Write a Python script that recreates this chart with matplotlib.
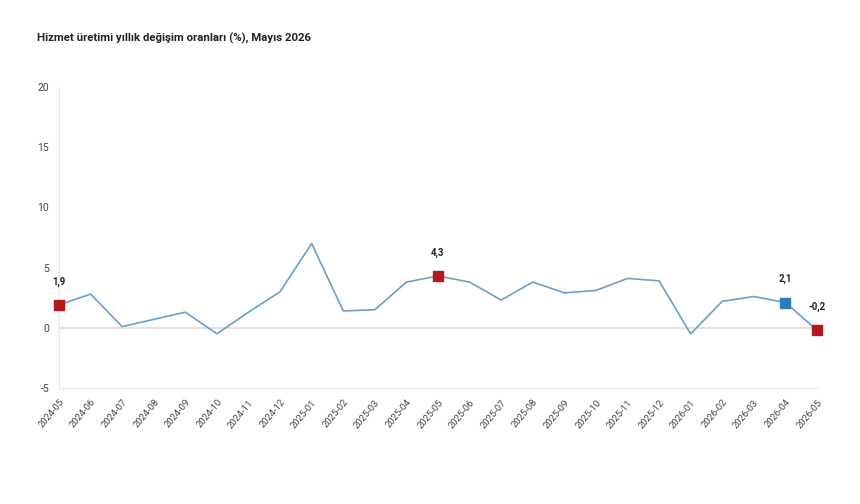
import matplotlib.pyplot as plt
import numpy as np

months = ['2024-05', '2024-06', '2024-07', '2024-08', '2024-09', '2024-10', '2024-11',
          '2024-12', '2025-01', '2025-02', '2025-03', '2025-04', '2025-05', '2025-06',
          '2025-07', '2025-08', '2025-09', '2025-10', '2025-11', '2025-12', '2026-01',
          '2026-02', '2026-03', '2026-04', '2026-05']
values = [1.9, 2.8, 0.1, 0.7, 1.3, -0.5, 1.3, 3.0, 7.0, 1.4, 1.5, 3.8, 4.3, 3.8,
          2.3, 3.8, 2.9, 3.1, 4.1, 3.9, -0.5, 2.2, 2.6, 2.1, -0.2]
# highlighted points: index, colour
highlights = {0: '#b5191f', 12: '#b5191f', 23: '#2f7dbf', 24: '#b5191f'}
yticks = [-5, 0, 5, 10, 15, 20]

plt.rcParams['font.family'] = ['Roboto', 'DejaVu Sans']

fig = plt.figure(figsize=(8.6, 5.04), dpi=100)
ax = fig.add_axes([59 / 860, 1 - 388 / 504, (817 - 59) / 860, 301 / 504])

x = np.arange(len(months))
ax.axhline(0, color='#e3e3e3', lw=1.6, zorder=1)
ax.plot(x, values, color='#6b9fc9', lw=1.2, zorder=2)

for i, c in highlights.items():
    ax.plot(x[i], values[i], marker='s', ms=7.5, color=c, mec=c, zorder=3, clip_on=False)
    ax.annotate(f"{values[i]:.1f}".replace('.', ','), (x[i], values[i]),
                xytext=(0, 13), textcoords='offset points', ha='center', va='bottom',
                fontsize=7, fontweight='bold', color='#222222')

ax.set_xlim(0, len(months) - 1)
ax.set_ylim(-5, 20)
ax.set_yticks(yticks)
ax.set_yticklabels([str(t) for t in yticks], fontsize=7.5, color='#444444')
ax.set_xticks(x)
ax.set_xticklabels(months, rotation=50, ha='right', rotation_mode='anchor',
                   fontsize=6.8, color='#444444')
ax.tick_params(length=0, pad=7)
ax.tick_params(axis='y', pad=7)

for s in ['top', 'right']:
    ax.spines[s].set_visible(False)
ax.spines['left'].set_color('#e6e6e6')
ax.spines['bottom'].set_color('#e6e6e6')

fig.text(37 / 860, 1 - 38 / 504, 'Hizmet üretimi yıllık değişim oranları (%), Mayıs 2026',
         fontsize=8.2, fontweight='bold', color='#222222', va='center')

plt.savefig('out.png', dpi=100)
